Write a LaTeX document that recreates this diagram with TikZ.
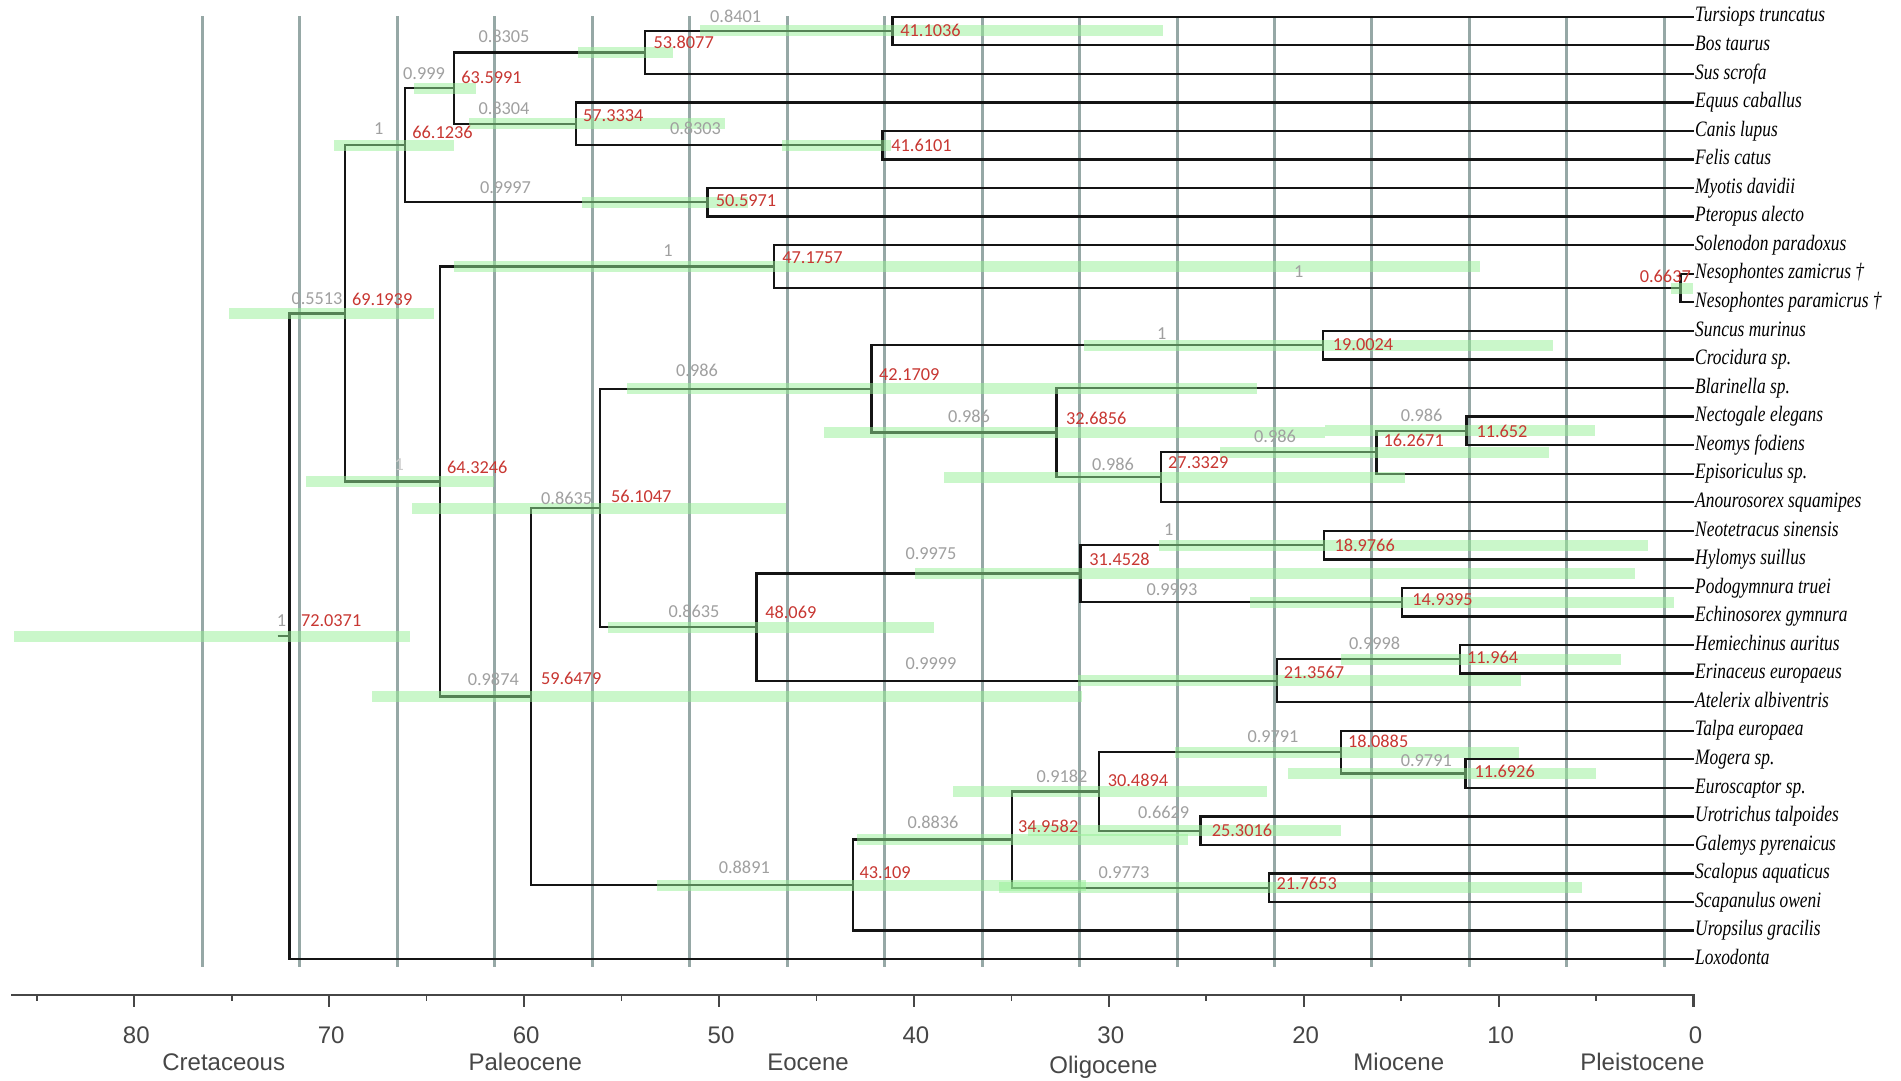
\documentclass[tikz,border=0pt]{standalone}
\usepackage{fontspec}
\setmainfont{Liberation Serif}
\newfontfamily\spfont[FakeStretch=0.79]{Liberation Serif Italic}
\newfontfamily\numfont{Carlito}
\newfontfamily\axfont{Liberation Sans}
\definecolor{gridc}{RGB}{150,168,166}
\definecolor{hpdc}{RGB}{150,240,150}
\definecolor{redl}{RGB}{200,55,50}
\definecolor{greyl}{RGB}{160,160,160}
\definecolor{axc}{RGB}{70,70,70}
\definecolor{branchc}{RGB}{20,20,20}
\newcommand\hpd[3]{\fill[hpd] (#2,0 |- #1) ++(0,-5.5) rectangle ++({#3-#2},11);}
\begin{document}
\begin{tikzpicture}[x=1pt,y=-1pt,
  declare function={ax(\a)=1693.5-19.49*\a; ry(\r)=16.7+28.56*\r;},
  branch/.style={draw=branchc, line width=2.3pt, line join=miter},
  gridline/.style={draw=gridc, line width=3pt},
  hpd/.style={fill=hpdc, fill opacity=0.5},
  tip/.style={anchor=west, inner xsep=1.5pt, inner ysep=0pt, text height=10.5pt, text depth=0pt, font=\spfont\fontsize{22}{22}\selectfont},
  glabel/.style={inner sep=0pt, text=greyl, font=\numfont\fontsize{18.3}{18.3}\selectfont},
  rlabel/.style={anchor=west, inner sep=0pt, text=redl, font=\numfont\fontsize{18.3}{18.3}\selectfont},
  axisline/.style={draw=axc, line width=2.2pt},
  axlabel/.style={anchor=base, text=axc, inner sep=0pt, font=\axfont\fontsize{24}{24}\selectfont}
]
\useasboundingbox (0,0) rectangle (1901,1080);
\fill[white] (0,0) rectangle (1901,1080);

% grid lines
\foreach \g in {1.5,6.5,11.5,16.5,21.5,26.5,31.5,36.5,41.5,46.5,51.5,56.5,61.5,66.5,71.5,76.5}
  \draw[gridline] ({ax(\g)},16) -- ({ax(\g)},966.7);

% tips
\foreach \i/\t in {0/Tursiops truncatus,1/Bos taurus,2/Sus scrofa,3/Equus caballus,4/Canis lupus,5/Felis catus,6/Myotis davidii,7/Pteropus alecto,8/Solenodon paradoxus,9/Nesophontes zamicrus †,10/Nesophontes paramicrus †,11/Suncus murinus,12/Crocidura sp.,13/Blarinella sp.,14/Nectogale elegans,15/Neomys fodiens,16/Episoriculus sp.,17/Anourosorex squamipes,18/Neotetracus sinensis,19/Hylomys suillus,20/Podogymnura truei,21/Echinosorex gymnura,22/Hemiechinus auritus,23/Erinaceus europaeus,24/Atelerix albiventris,25/Talpa europaea,26/Mogera sp.,27/Euroscaptor sp.,28/Urotrichus talpoides,29/Galemys pyrenaicus,30/Scalopus aquaticus,31/Scapanulus oweni,32/Uropsilus gracilis,33/Loxodonta}
  \node[tip] (t\i) at ({ax(0)},{ry(\i)}) {\t};

% internal nodes
\coordinate (root) at ({ax(72.0371)},{ry(21.69434)});
\coordinate (A) at ({ax(69.1939)},{ry(10.38867)});
\coordinate (B) at ({ax(66.1236)},{ry(4.5)});
\coordinate (C) at ({ax(64.3246)},{ry(16.27734)});
\coordinate (D) at ({ax(63.5991)},{ry(2.5)});
\coordinate (E) at ({ax(50.5971)},{ry(6.5)});
\coordinate (F) at ({ax(53.8077)},{ry(1.25)});
\coordinate (G) at ({ax(57.3334)},{ry(3.75)});
\coordinate (H) at ({ax(41.1036)},{ry(0.5)});
\coordinate (I) at ({ax(41.6101)},{ry(4.5)});
\coordinate (J) at ({ax(47.1757)},{ry(8.75)});
\coordinate (K) at ({ax(59.6479)},{ry(23.8046875)});
\coordinate (L) at ({ax(0.6637)},{ry(9.5)});
\coordinate (M) at ({ax(56.1047)},{ry(17.203125)});
\coordinate (N) at ({ax(43.109)},{ry(30.40625)});
\coordinate (O) at ({ax(42.1709)},{ry(13.03125)});
\coordinate (P) at ({ax(48.069)},{ry(21.375)});
\coordinate (Q) at ({ax(19.0024)},{ry(11.5)});
\coordinate (R) at ({ax(32.6856)},{ry(14.5625)});
\coordinate (S) at ({ax(27.3329)},{ry(16.125)});
\coordinate (T) at ({ax(16.2671)},{ry(15.25)});
\coordinate (U) at ({ax(11.652)},{ry(14.5)});
\coordinate (V) at ({ax(31.4528)},{ry(19.5)});
\coordinate (W) at ({ax(21.3567)},{ry(23.25)});
\coordinate (X) at ({ax(18.9766)},{ry(18.5)});
\coordinate (Y) at ({ax(14.9395)},{ry(20.5)});
\coordinate (Z) at ({ax(11.964)},{ry(22.5)});
\coordinate (AA) at ({ax(34.9582)},{ry(28.8125)});
\coordinate (BB) at ({ax(30.4894)},{ry(27.125)});
\coordinate (CC) at ({ax(21.7653)},{ry(30.5)});
\coordinate (DD) at ({ax(18.0885)},{ry(25.75)});
\coordinate (EE) at ({ax(25.3016)},{ry(28.5)});
\coordinate (FF) at ({ax(11.6926)},{ry(26.5)});
\coordinate (rs) at (277.5,{ry(21.69434)});

% branches
\foreach \p/\c in {root/A,A/B,A/C,B/D,B/E,D/F,D/G,F/H,G/I,C/J,J/L,C/K,K/M,K/N,M/O,M/P,O/Q,O/R,R/S,S/T,T/U,P/V,P/W,V/X,V/Y,W/Z,N/AA,AA/BB,AA/CC,BB/DD,BB/EE,DD/FF}
  \draw[branch] (\p) |- (\c);
\foreach \p/\c in {H/0,H/1,F/2,G/3,I/4,I/5,E/6,E/7,J/8,L/9,L/10,Q/11,Q/12,R/13,U/14,U/15,T/16,S/17,X/18,X/19,Y/20,Y/21,Z/22,Z/23,W/24,DD/25,FF/26,FF/27,EE/28,EE/29,CC/30,CC/31,N/32,root/33}
  \draw[branch] (\p) |- (t\c.west);
\draw[branch] (rs) -- (root);

% HPD bars
\hpd{root}{13.5}{410.2}
\hpd{A}{228.6}{433.5}
\hpd{B}{333.9}{454.3}
\hpd{D}{414.3}{475.5}
\hpd{F}{577.7}{673.3}
\hpd{H}{700}{1162.7}
\hpd{G}{469}{724.5}
\hpd{I}{781.5}{891}
\hpd{E}{582.4}{747.6}
\hpd{C}{306}{494}
\hpd{J}{454.3}{1480.4}
\hpd{L}{1671.4}{1692.7}
\hpd{K}{372.2}{1082.2}
\hpd{M}{412.2}{786.3}
\hpd{O}{627}{1256.5}
\hpd{Q}{1084.3}{1553}
\hpd{R}{823.9}{1325}
\hpd{S}{944.3}{1404.5}
\hpd{T}{1220}{1549}
\hpd{U}{1325.3}{1594.7}
\hpd{P}{608.2}{934.1}
\hpd{V}{914.9}{1634.7}
\hpd{X}{1158.6}{1647.8}
\hpd{Y}{1250.4}{1673.5}
\hpd{W}{1078.2}{1521.2}
\hpd{Z}{1340.8}{1620.8}
\hpd{N}{656.5}{1086.3}
\hpd{AA}{857.3}{1188.4}
\hpd{BB}{953.3}{1266.7}
\hpd{EE}{1028}{1341}
\hpd{CC}{999.4}{1582.4}
\hpd{DD}{1174.9}{1518.8}
\hpd{FF}{1287.8}{1595.5}

% support values (grey)
\node[glabel] (groot) at (281.6,620.7) {1};
\node[glabel] (gA) at (317,299) {0.5513};
\node[glabel] (gB) at (378.8,128.3) {1};
\node[glabel] (gD) at (424,73.3) {0.999};
\node[glabel] (gF) at (504,36.7) {0.8305};
\node[glabel] (gH) at (735.6,16) {0.8401};
\node[glabel] (gG) at (504,108.3) {0.8304};
\node[glabel] (gI) at (695.5,128.3) {0.8303};
\node[glabel] (gE) at (505.5,187.7) {0.9997};
\node[glabel, text=greyl!55] (gC) at (399.2,465) {1};
\node[glabel] (gJ) at (668,250.7) {1};
\node[glabel] (gL) at (1298.8,271.7) {1};
\node[glabel] (gK) at (493.3,679.3) {0.9874};
\node[glabel] (gM) at (566.7,498.3) {0.8635};
\node[glabel] (gO) at (697,370) {0.986};
\node[glabel] (gQ) at (1161.8,333.3) {1};
\node[glabel] (gR) at (969,416.7) {0.986};
\node[glabel] (gS) at (1113,464.3) {0.986};
\node[glabel] (gT) at (1275,436.7) {0.986};
\node[glabel] (gU) at (1421.6,415.7) {0.986};
\node[glabel] (gP) at (694,611.7) {0.8635};
\node[glabel] (gV) at (931,553.3) {0.9975};
\node[glabel] (gX) at (1168.8,530) {1};
\node[glabel] (gY) at (1172,589.3) {0.9993};
\node[glabel] (gW) at (931,663.3) {0.9999};
\node[glabel] (gZ) at (1374.6,643.3) {0.9998};
\node[glabel] (gN) at (744.3,867.3) {0.8891};
\node[glabel] (gAA) at (933,822.7) {0.8836};
\node[glabel] (gBB) at (1062,776) {0.9182};
\node[glabel] (gEE) at (1163.7,812.3) {0.6629};
\node[glabel] (gCC) at (1124,872.3) {0.9773};
\node[glabel] (gDD) at (1273,737) {0.9791};
\node[glabel] (gFF) at (1426.3,760.7) {0.9791};

% ages (red)
\node[rlabel] (rroot) at (300.8,620.7) {72.0371};
\node[rlabel] (rA) at (351.8,299) {69.1939};
\node[rlabel] (rB) at (412.2,132.7) {66.1236};
\node[rlabel] (rD) at (461.2,77.7) {63.5991};
\node[rlabel] (rF) at (653.3,42.3) {53.8077};
\node[rlabel] (rH) at (900.2,30) {41.1036};
\node[rlabel] (rG) at (582.9,116) {57.3334};
\node[rlabel] (rI) at (891.2,145.7) {41.6101};
\node[rlabel] (rE) at (715.7,200.7) {50.5971};
\node[rlabel] (rC) at (447,467.3) {64.3246};
\node[rlabel] (rJ) at (782.2,257.3) {47.1757};
\node[rlabel] (rL) at (1639.6,276.7) {0.6637};
\node[rlabel] (rK) at (540.8,678.3) {59.6479};
\node[rlabel] (rM) at (611,496.7) {56.1047};
\node[rlabel] (rO) at (879,375) {42.1709};
\node[rlabel] (rQ) at (1332.7,345) {19.0024};
\node[rlabel] (rR) at (1065.9,418.3) {32.6856};
\node[rlabel] (rS) at (1168,462.3) {27.3329};
\node[rlabel] (rT) at (1383.3,440) {16.2671};
\node[rlabel] (rU) at (1476.3,431) {11.652};
\node[rlabel] (rP) at (765.1,612.3) {48.069};
\node[rlabel] (rV) at (1089.2,559.3) {31.4528};
\node[rlabel] (rX) at (1334.3,545.7) {18.9766};
\node[rlabel] (rY) at (1412.2,599.3) {14.9395};
\node[rlabel] (rW) at (1283.7,672.3) {21.3567};
\node[rlabel] (rZ) at (1466.9,657.3) {11.964};
\node[rlabel] (rN) at (859.4,872.3) {43.109};
\node[rlabel] (rAA) at (1017.8,826.7) {34.9582};
\node[rlabel] (rBB) at (1107.6,780) {30.4894};
\node[rlabel] (rEE) at (1211.6,830.7) {25.3016};
\node[rlabel] (rCC) at (1276.3,883.3) {21.7653};
\node[rlabel] (rDD) at (1347.8,741.7) {18.0885};
\node[rlabel] (rFF) at (1474.3,771) {11.6926};

% time axis
\draw[axisline] (11,995) -- ({ax(0)},995) -- ({ax(0)},1007);
\foreach \t in {10,20,30,40,50,60,70,80}
  \draw[axisline] ({ax(\t)},995) -- ({ax(\t)},1007);
\foreach \t in {5,15,25,35,45,55,65,75,85}
  \draw[axisline, line width=1.6pt] ({ax(\t)},995) -- ({ax(\t)},1001);
\foreach \t in {0,10,20,30,40,50,60,70,80}
  \node[axlabel] (tk\t) at ({ax(\t)+2},1043.3) {\t};
\node[axlabel] (ep1) at (223.7,1070) {Cretaceous};
\node[axlabel] (ep2) at (525.3,1070) {Paleocene};
\node[axlabel] (ep3) at (808,1070) {Eocene};
\node[axlabel] (ep4) at (1103.5,1073.5) {Oligocene};
\node[axlabel] (ep5) at (1398.8,1070) {Miocene};
\node[axlabel] (ep6) at (1642.4,1070) {Pleistocene};
\end{tikzpicture}
\end{document}
